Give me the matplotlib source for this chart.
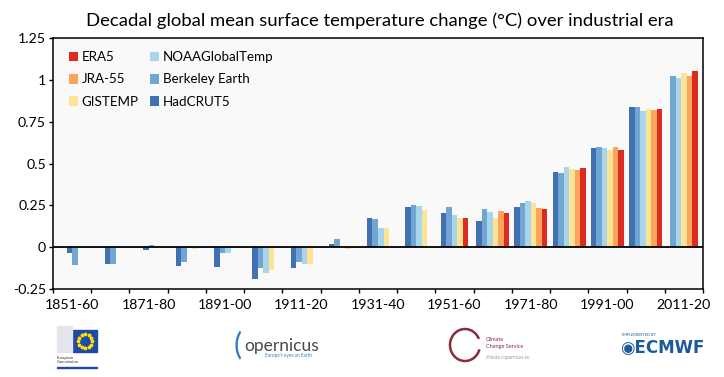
import matplotlib
matplotlib.use('Agg')
import matplotlib.pyplot as plt
import matplotlib.patches as mpatches
import numpy as np

plt.rcParams['font.family'] = ['Lato', 'DejaVu Sans']

# ---------------------------------------------------------------- DATOS
decadas = ['1851-60', '1861-70', '1871-80', '1881-90', '1891-00', '1901-10',
           '1911-20', '1921-30', '1931-40', '1941-50', '1951-60', '1961-70',
           '1971-80', '1981-90', '1991-00', '2001-10', '2011-20']
nan = np.nan
hadcrut5 = [-0.034, -0.103, -0.014, -0.113, -0.117, -0.190, -0.122, 0.020, 0.175,
            0.240, 0.205, 0.159, 0.240, 0.452, 0.593, 0.835, nan]
berkeley = [-0.109, -0.103, 0.010, -0.089, -0.034, -0.127, -0.088, 0.047, 0.168,
            0.252, 0.242, 0.230, 0.262, 0.444, 0.597, 0.839, 1.020]
noaa = [nan, nan, nan, -0.005, -0.036, -0.157, -0.098, 0.002, 0.112,
        0.248, 0.193, 0.208, 0.274, 0.478, 0.591, 0.811, 1.008]
gistemp = [nan, nan, nan, -0.010, -0.005, -0.135, -0.099, -0.008, 0.112,
           0.222, 0.172, 0.177, 0.264, 0.470, 0.583, 0.825, 1.040]
jra55 = [nan] * 11 + [0.216, 0.236, 0.462, 0.599, 0.820, 1.022]
era5 = [nan] * 10 + [0.174, 0.204, 0.226, 0.474, 0.579, 0.827, 1.054]

nombres = ['HadCRUT5', 'Berkeley Earth', 'NOAAGlobalTemp', 'GISTEMP', 'JRA-55', 'ERA5']
series = [hadcrut5, berkeley, noaa, gistemp, jra55, era5]
colores = ['#4170b3', '#71a6d2', '#a9d5ea', '#fde395', '#fba55c', '#dc2b20']
yticks = [-0.25, 0, 0.25, 0.5, 0.75, 1, 1.25]
ytick_labels = ['-0.25', '0', '0.25', '0.5', '0.75', '1', '1.25']
# ---------------------------------------------------------------- FIN DATOS

fig = plt.figure(figsize=(7.24, 3.77), dpi=100)
ax = fig.add_axes([53 / 724, 1 - 289 / 377, 650 / 724, 251 / 377])
ax.set_facecolor('#f9f9fa')

ancho = 0.144
datos = np.array(series, dtype=float)
barras = {}
for i in range(len(decadas)):
    # solo las series con dato en la decada, centradas en la categoria
    disponibles = [k for k in range(len(series)) if not np.isnan(datos[k, i])]
    n = len(disponibles)
    for j, k in enumerate(disponibles):
        x = i + (j - (n - 1) / 2) * ancho
        b = ax.bar(x, datos[k, i], width=ancho, color=colores[k], linewidth=0)
        barras[k] = b

ax.axhline(0, color='black', lw=1.3)
ax.set_xlim(-0.5, len(decadas) - 0.5)
ax.set_ylim(-0.25, 1.25)

# ticks en los limites de cada decada, etiquetas cada dos decadas
ax.set_xticks(np.arange(0, len(decadas), 2))
ax.set_xticklabels(decadas[::2], fontsize=10.2)
ax.set_xticks(np.arange(-0.5, len(decadas), 1), minor=True)
ax.tick_params(axis='x', which='major', length=0, pad=7)
ax.tick_params(axis='x', which='minor', length=3, width=1)
ax.set_yticks(yticks)
ax.set_yticklabels(ytick_labels, fontsize=10.2)
ax.tick_params(axis='y', length=3, width=1, pad=2)
for s in ax.spines.values():
    s.set_linewidth(1.1)

orden = [5, 4, 3, 2, 1, 0]
ax.legend([barras[k] for k in orden], [nombres[k] for k in orden], ncol=2,
          loc='upper left', bbox_to_anchor=(0.024, 0.948), frameon=False,
          fontsize=9.6, handlelength=0.68, handleheight=0.75, handletextpad=0.28,
          columnspacing=0.9, labelspacing=0.77, borderpad=0, borderaxespad=0)

fig.text(380 / 724, 1 - 21 / 377, 'Decadal global mean surface temperature change (°C) over industrial era',
         ha='center', va='center', fontsize=13.3)

# ---------------------------------------------------------------- LOGOS (aproximados)
# Comision Europea
fig.patches.append(mpatches.Rectangle((73 / 724, 1 - 352 / 377), 24 / 724, 22 / 377,
                                      transform=fig.transFigure, color='#1f4aa8'))
ang = np.linspace(0, 2 * np.pi, 13)[:-1]
fig.add_artist(plt.Line2D((85 + 7 * np.cos(ang)) / 724, 1 - (341 + 7 * np.sin(ang)) / 377,
                          ls='none', marker='*', ms=2.5, color='#ffdd00', transform=fig.transFigure))
fig.patches.append(mpatches.Rectangle((57 / 724, 1 - 352 / 377), 15 / 724, 26 / 377,
                                      transform=fig.transFigure, color='#e3e6ea'))
fig.text(57 / 724, 1 - 360 / 377, 'European\nCommission', fontsize=3, color='#333333',
         va='center', linespacing=1.3)
fig.patches.append(mpatches.Rectangle((57 / 724, 1 - 368 / 377), 40 / 724, 1.5 / 377,
                                      transform=fig.transFigure, color='#1f4aa8'))

# Copernicus
fig.text(234 / 724, 1 - 345 / 377, '(', fontsize=22, color='#3a7cc4', va='center')
fig.text(244 / 724, 1 - 346 / 377, 'opernicus', fontsize=12.5, color='#4a4a4a', va='center')
fig.text(312 / 724, 1 - 356 / 377, "Europe's eyes on Earth", fontsize=3.3, color='#3a7cc4',
         va='center', ha='right')

# Climate Change Service
fig.add_artist(mpatches.Arc((465 / 724, 1 - 345 / 377), 30 / 724, 32 / 377, theta1=40, theta2=330,
                            transform=fig.transFigure, color='#8c2a3d', lw=1.8))
fig.text(486 / 724, 1 - 343 / 377, 'Climate\nChange Service', fontsize=4, color='#8c2a3d',
         va='center', linespacing=1.3)
fig.text(486 / 724, 1 - 357 / 377, 'climate.copernicus.eu', fontsize=3.3, color='#999999',
         va='center')

# ECMWF
fig.text(622 / 724, 1 - 335 / 377, 'IMPLEMENTED BY', fontsize=2.8, color='#1c5a9c', va='center')
fig.text(620 / 724, 1 - 348 / 377, '\u25C9ECMWF', fontsize=12, color='#1c5a9c', va='center',
         fontweight='bold', family=['DejaVu Sans'])

fig.savefig('out.png', dpi=100, facecolor='white')
